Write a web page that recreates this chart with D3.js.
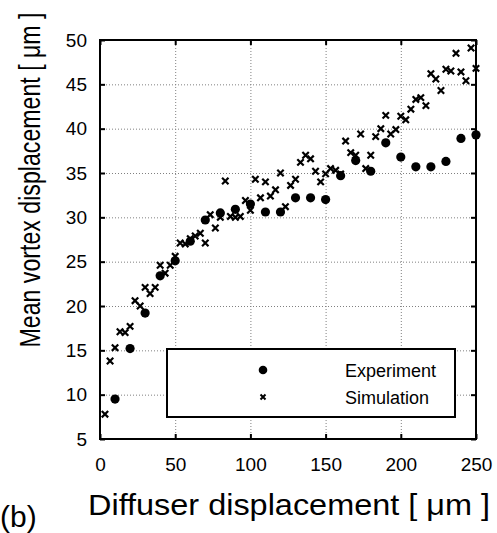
<!DOCTYPE html>
<html>
<head>
<meta charset="utf-8">
<script src="https://cdn.jsdelivr.net/npm/d3@7"></script>
<style>
  body { margin: 0; background: #fff; }
  svg { display: block; font-family: "Liberation Sans", Arial, sans-serif; }
  .grid line { stroke: #808080; stroke-width: 1; stroke-dasharray: 1,2; }
  .grid path { display: none; }
  .axis path { display: none; }
  .axis line { stroke: #000; stroke-width: 2; }
  .axis text { font-size: 19px; fill: #000; }
</style>
</head>
<body>
<svg id="chart" width="497" height="533"></svg>
<script>
// Experiment data (every 10 um)
const expX = [10, 20, 30, 40, 50, 60, 70, 80, 90, 100, 110, 120, 130,
              140, 150, 160, 170, 180, 190, 200, 210, 220, 230, 240, 250];
const expY = [9.5, 15.2, 19.2, 23.4, 25.1, 27.3, 29.7, 30.5, 30.9, 31.5, 30.6, 30.6, 32.2,
              32.2, 32.0, 34.7, 36.4, 35.2, 38.4, 36.8, 35.7, 35.7, 36.3, 38.9, 39.3];

// Simulation data
const simX = [3.3, 6.7, 10, 13.3, 16.7, 20, 23.3, 26.7, 30, 33.3,
              36.7, 40, 43.3, 46.7, 50, 53.3, 56.7, 60, 63.3, 66.7,
              70, 73.3, 76.7, 80, 83.3, 86.7, 90, 93.3, 96.7, 100,
              103.3, 106.7, 110, 113.3, 116.7, 120, 123.3, 126.7, 130, 133.3,
              136.7, 140, 143.3, 146.7, 150, 153.3, 156.7, 160, 163.3, 166.7,
              170, 173.3, 176.7, 180, 183.3, 186.7, 190, 193.3, 196.7, 200,
              203.3, 206.7, 210, 213.3, 216.7, 220, 223.3, 226.7, 230, 233.3,
              236.7, 240, 243.3, 246.7, 250];
const simY = [7.8, 13.8, 15.3, 17.1, 17.0, 17.7, 20.6, 20.0, 22.1, 21.4,
              22.1, 24.6, 23.7, 24.6, 25.6, 27.1, 27.0, 27.6, 27.9, 28.2,
              27.1, 30.3, 28.8, 30.0, 34.1, 30.1, 30.0, 30.1, 31.9, 30.8,
              34.3, 32.2, 34.0, 32.4, 33.1, 35.0, 31.2, 33.6, 34.3, 36.2,
              37.0, 36.6, 35.2, 34.0, 34.9, 35.5, 35.3, 34.9, 38.6, 37.3,
              37.0, 39.4, 35.5, 37.0, 39.1, 40.0, 41.5, 39.4, 39.9, 41.4,
              41.0, 42.2, 43.3, 43.5, 42.6, 46.2, 45.6, 44.3, 46.7, 46.5,
              48.5, 46.4, 45.4, 49.1, 46.8];

const xTicks = [0, 50, 100, 150, 200, 250];
const yTicks = [5, 10, 15, 20, 25, 30, 35, 40, 45, 50];
const legendLabels = ["Experiment", "Simulation"];

const margin = {top: 40, left: 100};
const width = 376, height = 399;

const svg = d3.select("#chart");
const g = svg.append("g").attr("transform", `translate(${margin.left},${margin.top})`);

const x = d3.scaleLinear().domain([0, 250]).range([0, width]);
const y = d3.scaleLinear().domain([5, 50]).range([height, 0]);

// dotted grid
g.append("g").attr("class", "grid")
  .attr("transform", `translate(0,${height})`)
  .call(d3.axisBottom(x).tickValues(xTicks.slice(1, -1)).tickSize(-height).tickFormat(""));
g.append("g").attr("class", "grid")
  .call(d3.axisLeft(y).tickValues(yTicks.slice(1, -1)).tickSize(-width).tickFormat(""));

// axes with inward ticks
g.append("g").attr("class", "axis")
  .attr("transform", `translate(0,${height})`)
  .call(d3.axisBottom(x).tickValues(xTicks).tickSize(-5).tickPadding(19));
g.append("g").attr("class", "axis")
  .call(d3.axisLeft(y).tickValues(yTicks).tickSize(-5).tickPadding(13));
g.append("g").attr("class", "axis")
  .call(d3.axisTop(x).tickValues(xTicks).tickSize(-5).tickFormat(""));
g.append("g").attr("class", "axis")
  .attr("transform", `translate(${width},0)`)
  .call(d3.axisRight(y).tickValues(yTicks).tickSize(-5).tickFormat(""));

// frame
g.append("rect")
  .attr("width", width).attr("height", height)
  .attr("fill", "none").attr("stroke", "#000").attr("stroke-width", 2);

// cross marker
const cross = s => `M${-s},${-s}L${s},${s}M${-s},${s}L${s},${-s}`;

// simulation crosses
g.selectAll(".sim")
  .data(simX.map((d, i) => [d, simY[i]]))
  .enter().append("path")
  .attr("class", "sim")
  .attr("transform", d => `translate(${x(d[0])},${y(d[1])})`)
  .attr("d", cross(3.2))
  .attr("stroke", "#000").attr("stroke-width", 2.2).attr("fill", "none");

// experiment dots
g.selectAll(".exp")
  .data(expX.map((d, i) => [d, expY[i]]))
  .enter().append("circle")
  .attr("class", "exp")
  .attr("cx", d => x(d[0]))
  .attr("cy", d => y(d[1]))
  .attr("r", 4.6)
  .attr("fill", "#000");

// legend
const lg = svg.append("g").attr("transform", "translate(167,349)");
lg.append("rect")
  .attr("width", 288).attr("height", 68)
  .attr("fill", "#fff").attr("stroke", "#000").attr("stroke-width", 2);
lg.append("circle").attr("cx", 96).attr("cy", 21).attr("r", 4.3).attr("fill", "#000");
lg.append("path").attr("transform", "translate(96,48)").attr("d", cross(2.5))
  .attr("stroke", "#000").attr("stroke-width", 2).attr("fill", "none");
lg.selectAll(".ltxt")
  .data(legendLabels)
  .enter().append("text")
  .attr("x", 178)
  .attr("y", (d, i) => 28 + i * 27)
  .attr("font-size", 18)
  .text(d => d);

// axis titles
svg.append("text")
  .attr("x", 289).attr("y", 515)
  .attr("text-anchor", "middle")
  .attr("font-size", 30)
  .attr("textLength", 402).attr("lengthAdjust", "spacingAndGlyphs")
  .text("Diffuser displacement  [ \u03bcm ]");

svg.append("text")
  .attr("transform", "translate(40,180) rotate(-90) scale(1,1.2)")
  .attr("text-anchor", "middle")
  .attr("font-size", 24)
  .attr("textLength", 335).attr("lengthAdjust", "spacingAndGlyphs")
  .text("Mean vortex displacement [ \u03bcm ]");

svg.append("text")
  .attr("x", 0).attr("y", 527)
  .attr("font-size", 30)
  .text("(b)");
</script>
</body>
</html>
